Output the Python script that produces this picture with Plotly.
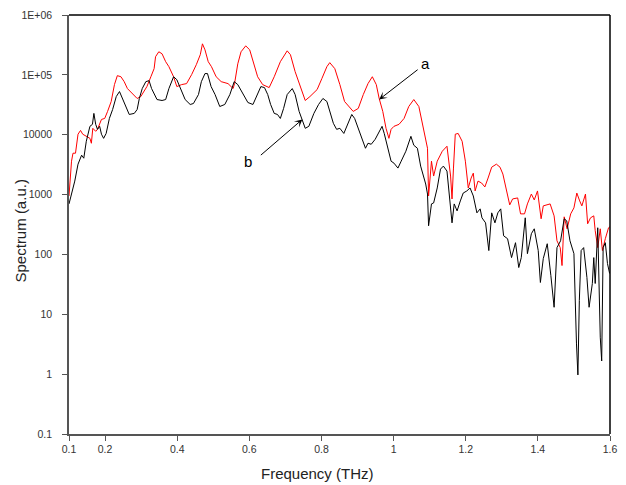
import plotly.graph_objects as go

# Spectrum a (red)
freq_a = [0.100, 0.103, 0.107, 0.111, 0.118, 0.125, 0.132, 0.138, 0.148, 0.158,
          0.162, 0.166, 0.174, 0.179, 0.190, 0.199, 0.207, 0.217, 0.226, 0.234,
          0.244, 0.253, 0.262, 0.275, 0.289, 0.299, 0.308, 0.316, 0.327, 0.336,
          0.340, 0.349, 0.358, 0.368, 0.377, 0.390, 0.399, 0.412, 0.426, 0.440,
          0.453, 0.464, 0.470, 0.477, 0.486, 0.495, 0.508, 0.522, 0.541, 0.555,
          0.559, 0.568, 0.577, 0.590, 0.601, 0.614, 0.623, 0.637, 0.655, 0.669,
          0.686, 0.705, 0.714, 0.727, 0.741, 0.755, 0.768, 0.788, 0.801, 0.815,
          0.823, 0.837, 0.851, 0.864, 0.888, 0.902, 0.916, 0.929, 0.941, 0.952,
          0.960, 0.970, 0.979, 0.987, 0.993, 1.001, 1.015, 1.029, 1.042, 1.056,
          1.070, 1.084, 1.094, 1.097, 1.105, 1.111, 1.121, 1.135, 1.148, 1.158,
          1.162, 1.166, 1.171, 1.179, 1.190, 1.199, 1.207, 1.215, 1.221, 1.226,
          1.234, 1.244, 1.253, 1.262, 1.272, 1.285, 1.295, 1.303, 1.316, 1.322,
          1.330, 1.344, 1.352, 1.363, 1.371, 1.382, 1.390, 1.399, 1.409, 1.415,
          1.434, 1.445, 1.453, 1.462, 1.467, 1.473, 1.481, 1.491, 1.500, 1.508,
          1.516, 1.522, 1.532, 1.538, 1.546, 1.555, 1.559, 1.566, 1.573, 1.579,
          1.587, 1.596, 1.600]
spec_a = [948, 2040, 3610, 4910, 4910, 10200, 11800, 10200, 9400, 8700,
          7200, 12800, 11400, 12300, 18000, 18700, 24500, 35900, 68700, 97000,
          93000, 77000, 59000, 48700, 40300, 43400, 52600, 63700, 93000, 127000,
          201000, 243000, 225000, 166000, 137000, 93000, 63700, 68700, 71400, 101000,
          148000, 217000, 330000, 262000, 166000, 137000, 93000, 77000, 71400, 59000,
          71400, 153000, 243000, 305000, 262000, 148000, 93000, 68700, 61300, 93000,
          166000, 252000, 217000, 113000, 63700, 37300, 43400, 56800, 86500, 137000,
          160000, 127000, 68700, 35900, 24500, 27500, 46900, 71400, 93000, 68700,
          40300, 24500, 12800, 8700, 12300, 13800, 14900, 18700, 29600, 38700,
          29600, 12300, 5940, 948, 3610, 2040, 3610, 5300, 6420, 2040,
          845, 2770, 10200, 10500, 7770, 3610, 1290, 1890, 2280, 1150,
          1680, 1560, 1340, 1890, 2870, 3220, 2870, 2200, 948, 672,
          845, 879, 476, 476, 698, 1020, 813, 1150, 394, 647,
          698, 441, 169, 130, 65.2, 425, 268, 476, 599, 1060,
          783, 647, 1020, 325, 409, 441, 249, 130, 268, 116,
          183, 279, 290]

# Spectrum b (black)
freq_b = [0.100, 0.103, 0.107, 0.116, 0.125, 0.135, 0.141, 0.148, 0.158, 0.165,
          0.169, 0.174, 0.179, 0.185, 0.190, 0.196, 0.203, 0.212, 0.221, 0.231,
          0.240, 0.248, 0.258, 0.267, 0.281, 0.289, 0.295, 0.303, 0.313, 0.322,
          0.329, 0.336, 0.344, 0.358, 0.368, 0.377, 0.390, 0.399, 0.412, 0.422,
          0.436, 0.445, 0.459, 0.467, 0.477, 0.484, 0.494, 0.505, 0.518, 0.532,
          0.546, 0.558, 0.568, 0.582, 0.596, 0.610, 0.623, 0.632, 0.642, 0.651,
          0.659, 0.669, 0.678, 0.686, 0.695, 0.705, 0.719, 0.727, 0.738, 0.747,
          0.755, 0.765, 0.779, 0.792, 0.804, 0.815, 0.823, 0.833, 0.842, 0.851,
          0.862, 0.873, 0.884, 0.892, 0.902, 0.914, 0.922, 0.929, 0.938, 0.949,
          0.960, 0.968, 0.974, 0.984, 0.993, 1.001, 1.012, 1.021, 1.034, 1.048,
          1.056, 1.066, 1.075, 1.089, 1.094, 1.097, 1.105, 1.111, 1.121, 1.130,
          1.138, 1.148, 1.155, 1.162, 1.168, 1.176, 1.185, 1.193, 1.203, 1.212,
          1.221, 1.231, 1.240, 1.245, 1.255, 1.264, 1.272, 1.281, 1.289, 1.297,
          1.305, 1.316, 1.327, 1.338, 1.347, 1.354, 1.365, 1.371, 1.382, 1.390,
          1.401, 1.407, 1.415, 1.426, 1.436, 1.445, 1.453, 1.463, 1.473, 1.480,
          1.489, 1.500, 1.507, 1.511, 1.515, 1.520, 1.527, 1.536, 1.542, 1.551,
          1.555, 1.559, 1.566, 1.573, 1.577, 1.581, 1.587, 1.593, 1.599]
spec_b = [698, 813, 1020, 1680, 3220, 4550, 4050, 7770, 13800, 14900,
          22700, 14900, 12300, 13800, 10200, 8700, 10500, 18700, 26400, 43400,
          52600, 40300, 29600, 21800, 22700, 26400, 40300, 59000, 77000, 80000,
          59000, 46900, 38700, 37300, 38700, 59000, 93000, 83000, 52600, 38700,
          32000, 33200, 46900, 77000, 105000, 105000, 63700, 46900, 29600, 32000,
          46900, 77000, 68700, 48700, 34500, 32000, 46900, 63700, 61300, 46900,
          32000, 22700, 21800, 18700, 27500, 46900, 59000, 46900, 24500, 16700,
          12800, 13800, 22700, 32000, 40300, 35900, 24500, 15500, 12300, 12800,
          10500, 15500, 21800, 18700, 12800, 7770, 5940, 7200, 6930, 8400,
          11400, 13800, 10500, 5940, 3610, 3350, 2770, 3610, 5300, 9400,
          6670, 5940, 2990, 1500, 1020, 301, 698, 725, 1290, 2660,
          2990, 2470, 1020, 337, 698, 534, 783, 1060, 1150, 1290,
          948, 495, 577, 409, 337, 116, 495, 337, 495, 577,
          205, 183, 88.5, 157, 60.4, 88.5, 409, 103, 222, 268,
          116, 34.0, 85.2, 151, 44.5, 13.1, 130, 169, 394, 364,
          169, 103, 3.30, 0.97, 17.1, 116, 130, 41.2, 13.1, 32.7,
          88.5, 32.7, 279, 4.15, 1.66, 130, 157, 70.3, 48.0]

x_ticks = [0.1, 0.2, 0.4, 0.6, 0.8, 1.0, 1.2, 1.4, 1.6]
x_tick_text = ["0.1", "0.2", "0.4", "0.6", "0.8", "1", "1.2", "1.4", "1.6"]
y_ticks = [0.1, 1, 10, 100, 1000, 10000, 1e5, 1e6]
y_tick_text = ["0.1", "1", "10", "100", "1000", "10000", "1E+05", "1E+06"]

FONT = "Liberation Sans, Arial, sans-serif"
AXIS_GREY = "#555555"
TITLE_FONT = dict(family=FONT, size=15, color="#222222")
TICK_FONT = dict(family=FONT, size=10.5, color="#333333")

fig = go.Figure()
fig.add_trace(go.Scatter(x=freq_a, y=spec_a, mode="lines", name="a",
                         line=dict(color="#ff0000", width=1)))
fig.add_trace(go.Scatter(x=freq_b, y=spec_b, mode="lines", name="b",
                         line=dict(color="#000000", width=1)))

# Arrow labels for the two spectra
fig.add_annotation(x=0.960, y=4.588, ax=40, ay=-31, text="", showarrow=True,
                   arrowhead=3, arrowsize=1.3, arrowwidth=1, arrowcolor="#000000")
fig.add_annotation(x=1.089, y=5.186, text="a", showarrow=False,
                   font=dict(family=FONT, size=15, color="#000000"))
fig.add_annotation(x=0.747, y=4.256, ax=-43, ay=37, text="", showarrow=True,
                   arrowhead=3, arrowsize=1.3, arrowwidth=1, arrowcolor="#000000")
fig.add_annotation(x=0.596, y=3.558, text="b", showarrow=False,
                   font=dict(family=FONT, size=15, color="#000000"))

# Axis titles
fig.add_annotation(xref="paper", yref="paper", x=0.459, y=-0.094,
                   xanchor="center", yanchor="middle", showarrow=False,
                   text="Frequency (THz)", font=TITLE_FONT)
fig.add_annotation(xref="paper", yref="paper", x=-0.0896, y=0.4846,
                   xanchor="center", yanchor="middle", showarrow=False,
                   textangle=-90, text="Spectrum (a.u.)", font=TITLE_FONT)

# Black frame along the top and right
fig.add_shape(type="line", xref="paper", yref="paper", x0=0, x1=1, y0=1, y1=1,
              line=dict(color="#000000", width=1.5))
fig.add_shape(type="line", xref="paper", yref="paper", x0=1, x1=1, y0=0, y1=1,
              line=dict(color="#000000", width=1.5))

fig.update_layout(
    width=626, height=485,
    margin=dict(l=69, r=9, t=13, b=51),
    paper_bgcolor="white", plot_bgcolor="white",
    showlegend=False,
    font=dict(family=FONT, size=11, color="#333333"),
    xaxis=dict(
        range=[0.1, 1.6], tickvals=x_ticks, ticktext=x_tick_text,
        showgrid=False, zeroline=False,
        showline=True, linecolor=AXIS_GREY, linewidth=1.5,
        ticks="outside", ticklen=5, tickcolor=AXIS_GREY,
        tickfont=TICK_FONT,
    ),
    yaxis=dict(
        type="log", range=[-1, 6], tickvals=y_ticks, ticktext=y_tick_text,
        showgrid=False, zeroline=False,
        showline=True, linecolor=AXIS_GREY, linewidth=1.5,
        ticks="outside", ticklen=5, tickcolor=AXIS_GREY,
        ticklabelstandoff=8,
        tickfont=TICK_FONT,
    ),
)

fig.write_html("out.html")
